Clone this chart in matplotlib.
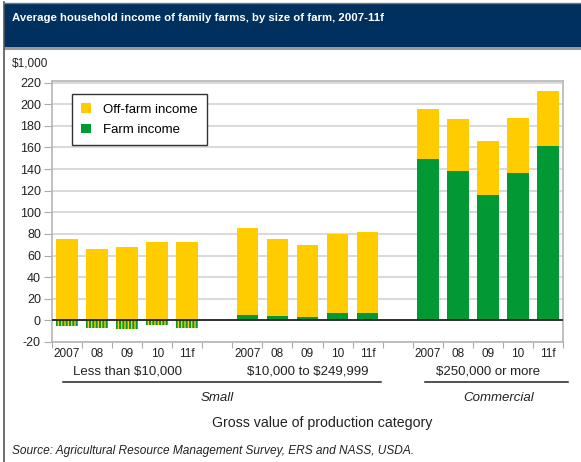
#!/usr/bin/env python3
"""Average household income of family farms, by size of farm (ERS chart)."""

import matplotlib

matplotlib.use("Agg")
import matplotlib.pyplot as plt
import matplotlib.transforms as mtransforms
from matplotlib.lines import Line2D
from matplotlib.patches import Patch, Rectangle

plt.rcParams["font.family"] = ["Liberation Sans", "DejaVu Sans"]
plt.rcParams["hatch.linewidth"] = 1.0
plt.rcParams["text.parse_math"] = False

W, H = 581, 462

YEARS = ["2007", "08", "09", "10", "11f"]
GROUPS = ["Less than $10,000", "$10,000 to $249,999", "$250,000 or more"]

# $1,000 per household
farm_small_low = [-5.6, -7.1, -8.0, -4.6, -6.8]
offfarm_small_low = [75.7, 66.4, 67.7, 72.3, 72.3]

farm_small_mid = [5.3, 4.3, 3.4, 6.5, 6.5]
total_small_mid = [85.9, 75.4, 70.1, 80.3, 82.2]

farm_commercial = [149.5, 138.4, 115.9, 136.3, 161.6]
total_commercial = [195.3, 186.0, 166.2, 187.2, 212.6]

YELLOW = "#FFCC00"
GREEN = "#009933"
NAVY = "#00305E"
GRID = "#D9D9D9"


def py(p):
    """pixel row -> figure fraction"""
    return 1 - p / H


fig = plt.figure(figsize=(W / 100, H / 100), dpi=100)

# header band and frame
fig.patches.append(Rectangle((4 / W, py(47)), 1, 44 / H, transform=fig.transFigure,
                             facecolor=NAVY, edgecolor="none", zorder=0))
fig.patches.append(Rectangle((4 / W, py(50)), 1, 3 / H, transform=fig.transFigure,
                             facecolor="#9a9a9a", edgecolor="none", zorder=0))
fig.lines.append(Line2D([3.5 / W, 3.5 / W], [0, py(2)], transform=fig.transFigure,
                        color="#555555", linewidth=1.2))
fig.lines.append(Line2D([3.5 / W, 1], [py(2.5), py(2.5)], transform=fig.transFigure,
                        color="#777777", linewidth=1.0))
fig.text(12 / W, py(18), "Average household income of family farms, by size of farm, 2007-11f",
         color="white", fontsize=8.2, fontweight="bold", va="center", ha="left")

ax = fig.add_axes([52 / W, py(342), (563 - 52) / W, (342 - 81) / H])

x1 = list(range(0, 5))
x2 = list(range(6, 11))
x3 = list(range(12, 17))
bw = 0.72

# small, less than $10,000: farm income negative (hatched), off-farm from zero
ax.bar(x1, offfarm_small_low, bw, color=YELLOW, zorder=3)
ax.bar(x1, farm_small_low, bw, color=GREEN, edgecolor=YELLOW, linewidth=0,
       hatch="|||||", zorder=3)

for xs, farm, total in [(x2, farm_small_mid, total_small_mid),
                        (x3, farm_commercial, total_commercial)]:
    off = [t - f for t, f in zip(total, farm)]
    ax.bar(xs, farm, bw, color=GREEN, zorder=3)
    ax.bar(xs, off, bw, bottom=farm, color=YELLOW, zorder=3)

ax.axhline(0, color="#222222", linewidth=1.3, zorder=4)

ax.set_xlim(-0.5, 16.5)
ax.set_ylim(-20, 221.5)
ax.set_yticks(range(-20, 221, 20))
ax.set_yticklabels([str(v) for v in range(-20, 221, 20)])
ax.yaxis.grid(True, color=GRID, linewidth=1.4, zorder=0)
ax.set_axisbelow(True)
ax.tick_params(axis="y", length=6, color="#aaaaaa", labelsize=9, pad=2, labelcolor="#222222")

ax.set_xticks([i - 0.5 for i in range(18)])
ax.set_xticklabels([])
ax.tick_params(axis="x", length=4, color="#aaaaaa", direction="out")
for s in ax.spines.values():
    s.set_color("#b5b5b5")
    s.set_linewidth(1.2)

fig.text(12 / W, py(64), "$1,000", fontsize=8.5, va="center", ha="left", color="#222222")

# category axis labels below the plot
tr = mtransforms.blended_transform_factory(ax.transData, fig.transFigure)
for xs in (x1, x2, x3):
    for x, lab in zip(xs, YEARS):
        ax.text(x, py(354), lab, transform=tr, ha="center", va="center",
                fontsize=8.5, color="#222222")
for xs, g in zip((x1, x2, x3), GROUPS):
    ax.text(xs[2], py(372), g, transform=tr, ha="center", va="center",
            fontsize=9.5, color="#222222")

ax.add_line(Line2D([-0.15, 10.45], [py(382), py(382)], transform=tr, color="#222222",
                   linewidth=1.1, clip_on=False))
ax.add_line(Line2D([11.9, 16.65], [py(382), py(382)], transform=tr, color="#222222",
                   linewidth=1.1, clip_on=False))
ax.text(5.0, py(398), "Small", transform=tr, ha="center", va="center",
        fontsize=9.5, style="italic", color="#222222")
ax.text(14.35, py(398), "Commercial", transform=tr, ha="center", va="center",
        fontsize=9.5, style="italic", color="#222222")

fig.text(322 / W, py(423), "Gross value of production category", ha="center",
         va="center", fontsize=10.2, color="#222222")
fig.text(12 / W, py(451), "Source: Agricultural Resource Management Survey, ERS and NASS, USDA.",
         ha="left", va="center", fontsize=8.6, style="italic", color="#222222")

handles = [Patch(facecolor=YELLOW, edgecolor="none", label="Off-farm income"),
           Patch(facecolor=GREEN, edgecolor="none", label="Farm income")]
leg = ax.legend(handles=handles, loc="upper left",
                bbox_to_anchor=(72 / W, py(94)), bbox_transform=fig.transFigure,
                fontsize=9.5, frameon=True, fancybox=False, framealpha=1,
                edgecolor="#333333", handlelength=0.75, handleheight=0.75,
                handletextpad=0.9, borderpad=0.7, labelspacing=0.6,
                borderaxespad=0)
leg.get_frame().set_linewidth(1.0)

fig.savefig("out.png", dpi=100)
